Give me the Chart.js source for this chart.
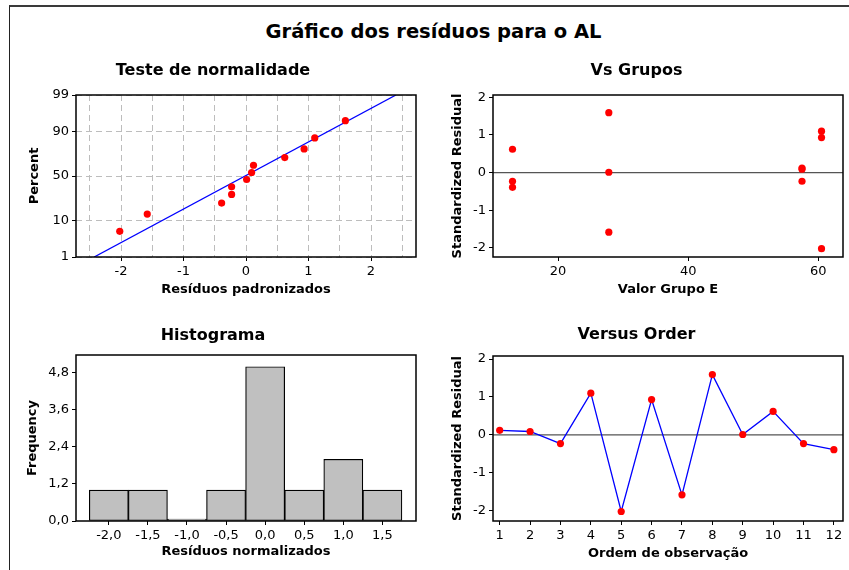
<!DOCTYPE html>
<html>
<head>
<meta charset="utf-8">
<title>Gráfico dos resíduos para o AL</title>
<script src="https://cdn.jsdelivr.net/npm/chart.js@4.4.0/dist/chart.umd.min.js"></script>
<style>
  body { margin: 0; background: #fff; width: 849px; height: 570px; overflow: hidden; position: relative; font-family: "DejaVu Sans", sans-serif; }
  #frame { position: absolute; left: 9px; top: 5px; width: 900px; height: 600px; border-top: 2px solid #3a3a3a; border-left: 1px solid #222; }
  #mainTitle { position: absolute; left: 0; width: 867px; top: 20px; text-align: center; font-weight: bold; font-size: 19.5px; color: #000; }
  canvas { position: absolute; }
</style>
</head>
<body>
<div id="frame"></div>
<div id="mainTitle">Gráfico dos resíduos para o AL</div>
<canvas id="cNormal"></canvas>
<canvas id="cGrupos"></canvas>
<canvas id="cHist"></canvas>
<canvas id="cOrder"></canvas>
<script>
// Resíduos padronizados, na ordem de observação
const obsOrder = [1, 2, 3, 4, 5, 6, 7, 8, 9, 10, 11, 12];
const residuals = [0.12, 0.09, -0.23, 1.10, -2.02, 0.93, -1.58, 1.59, 0.01, 0.62, -0.23, -0.39];
// Valor do grupo E de cada observação
const grupoE = [57.5, 57.5, 57.5, 60.5, 60.5, 60.5, 27.8, 27.8, 27.8, 13, 13, 13];

// Gráfico de probabilidade normal: resíduos ordenados e percentis
const probResiduals = [-2.02, -1.58, -0.39, -0.23, -0.23, 0.01, 0.09, 0.12, 0.62, 0.93, 1.10, 1.59];
const probPercent = [5.6, 13.7, 21.8, 29.8, 37.9, 46.0, 54.0, 62.1, 70.2, 78.2, 86.3, 94.4];
// Reta ajustada (extremos)
const fitX = [-2.43, 2.40];
const fitPercent = [1, 99];

// Histograma
const histBins = [-2.0, -1.5, -1.0, -0.5, 0.0, 0.5, 1.0, 1.5];
const histCounts = [1, 1, 0, 1, 5, 1, 2, 1];

// Marcas dos eixos
const normalXTicks = [-2.5, -2, -1.5, -1, -0.5, 0, 0.5, 1, 1.5, 2, 2.5];
const percentTicks = [1, 10, 50, 90, 99];
const grupoTicks = [20, 40, 60];
const residTicks = [-2, -1, 0, 1, 2];
const freqTicks = [0, 1.2, 2.4, 3.6, 4.8];

const RED = '#ff0000';
const BLUE = '#0000ff';

Chart.defaults.color = '#000';
Chart.defaults.font.family = '"DejaVu Sans", sans-serif';
Chart.defaults.font.size = 13;
Chart.defaults.animation = false;

// inversa da normal padrão (aproximação de Acklam)
function probit(p) {
  const a = [-3.969683028665376e+01, 2.209460984245205e+02, -2.759285104469687e+02, 1.383577518672690e+02, -3.066479806614716e+01, 2.506628277459239e+00];
  const b = [-5.447609879822406e+01, 1.615858368580409e+02, -1.556989798598866e+02, 6.680131188771972e+01, -1.328068155288572e+01];
  const c = [-7.784894002430293e-03, -3.223964580411365e-01, -2.400758310588260e+00, -2.549732539343734e+00, 4.374664141464968e+00, 2.938163982698783e+00];
  const d = [7.784695709041462e-03, 3.224671290700398e-01, 2.445134137142996e+00, 3.754408661907416e+00];
  const pl = 0.02425;
  let q, r;
  if (p < pl) {
    q = Math.sqrt(-2 * Math.log(p));
    return (((((c[0] * q + c[1]) * q + c[2]) * q + c[3]) * q + c[4]) * q + c[5]) / ((((d[0] * q + d[1]) * q + d[2]) * q + d[3]) * q + 1);
  }
  if (p > 1 - pl) {
    q = Math.sqrt(-2 * Math.log(1 - p));
    return -(((((c[0] * q + c[1]) * q + c[2]) * q + c[3]) * q + c[4]) * q + c[5]) / ((((d[0] * q + d[1]) * q + d[2]) * q + d[3]) * q + 1);
  }
  q = p - 0.5;
  r = q * q;
  return (((((a[0] * r + a[1]) * r + a[2]) * r + a[3]) * r + a[4]) * r + a[5]) * q / (((((b[0] * r + b[1]) * r + b[2]) * r + b[3]) * r + b[4]) * r + 1);
}

// escala de probabilidade normal (valores em %)
class ProbabilityScale extends Chart.LinearScale {
  getPixelForValue(value) {
    const z0 = probit(this.min / 100), z1 = probit(this.max / 100);
    return this.getPixelForDecimal((probit(value / 100) - z0) / (z1 - z0));
  }
}
ProbabilityScale.id = 'probability';
ProbabilityScale.defaults = Chart.LinearScale.defaults;
Chart.register(ProbabilityScale);

// moldura da área do gráfico e linha de referência no zero
const plotFrame = {
  id: 'plotFrame',
  beforeDatasetsDraw(chart, args, opts) {
    if (!opts.zeroLine) return;
    const { ctx, chartArea: a } = chart;
    const y = chart.scales.y.getPixelForValue(0);
    ctx.save();
    ctx.strokeStyle = '#555';
    ctx.lineWidth = 1.2;
    ctx.beginPath();
    ctx.moveTo(a.left, y);
    ctx.lineTo(a.right, y);
    ctx.stroke();
    ctx.restore();
  },
  afterDraw(chart) {
    const { ctx, chartArea: a } = chart;
    ctx.save();
    ctx.strokeStyle = '#000';
    ctx.lineWidth = 1.5;
    ctx.strokeRect(a.left, a.top, a.right - a.left, a.bottom - a.top);
    ctx.restore();
  }
};
Chart.register(plotFrame);

const fmtComma = v => v.toFixed(1).replace('.', ',');

function axis(o) {
  return {
    type: o.type || 'linear',
    min: o.min,
    max: o.max,
    offset: false,
    afterBuildTicks: s => { s.ticks = o.ticks.map(v => ({ value: v })); },
    afterFit: s => { if (s.isHorizontal()) s.height = o.size; else s.width = o.size; },
    border: { display: false, dash: o.dash || [] },
    grid: {
      offset: false,
      drawOnChartArea: !!o.gridColor,
      color: o.gridColor || 'rgba(0,0,0,0)',
      tickLength: 4,
      tickColor: o.tickColor || '#000',
      tickWidth: 1
    },
    ticks: { autoSkip: false, maxRotation: 0, padding: 3, callback: o.fmt || (v => v) },
    title: { display: true, text: o.title, font: { size: 13, weight: 'bold' }, padding: o.titlePad }
  };
}

// monta um painel: caixa do canvas, área de plotagem e posições dos textos (coordenadas da página)
function panel(id, box, plot, pos, title, xAxis, yAxis, type, datasets, extra) {
  const canvas = document.getElementById(id);
  canvas.width = box.w;
  canvas.height = box.h;
  canvas.style.left = box.x + 'px';
  canvas.style.top = box.y + 'px';
  canvas.style.width = box.w + 'px';
  canvas.style.height = box.h + 'px';

  const tSize = 16, tLine = tSize * 1.2, aLine = 13 * 1.2;
  const tTop = pos.titleY - box.y - tLine / 2;
  const tBottom = plot.t - box.y - tTop - tLine;

  xAxis.size = box.y + box.h - plot.b;
  xAxis.titlePad = { top: 0, bottom: box.y + box.h - pos.xTitleY - aLine / 2 };
  yAxis.size = plot.l - box.x;
  yAxis.titlePad = { top: pos.yTitleX - box.x - aLine / 2, bottom: 0 };

  new Chart(canvas, {
    type,
    data: { datasets },
    options: {
      responsive: false,
      devicePixelRatio: 1,
      layout: { autoPadding: false, padding: { left: 0, top: 0, bottom: 0, right: box.x + box.w - plot.r } },
      plugins: {
        legend: { display: false },
        tooltip: { enabled: false },
        title: { display: true, text: title, color: '#000', font: { size: tSize, weight: 'bold' }, padding: { top: tTop, bottom: tBottom } },
        plotFrame: extra || {}
      },
      scales: { x: axis(xAxis), y: axis(yAxis) }
    }
  });
}

const dots = { pointRadius: 3.6, pointBackgroundColor: RED, pointBorderColor: RED, pointBorderWidth: 0, showLine: false };

// Teste de normalidade
panel('cNormal',
  { x: 10, y: 50, w: 420, h: 256 },
  { l: 76, t: 95, r: 416, b: 257 },
  { titleY: 71, xTitleY: 290, yTitleX: 35 },
  'Teste de normalidade',
  { min: -2.72, max: 2.72, ticks: normalXTicks, title: 'Resíduos padronizados', gridColor: '#bdbdbd', dash: [6, 4],
    tickColor: c => Number.isInteger(c.tick.value) ? '#000' : 'rgba(0,0,0,0)',
    fmt: v => Number.isInteger(v) ? String(v) : '' },
  { type: 'probability', min: 1, max: 99, ticks: percentTicks, title: 'Percent', gridColor: '#bdbdbd', dash: [6, 4] },
  'scatter',
  [
    Object.assign({ data: probResiduals.map((x, i) => ({ x, y: probPercent[i] })), order: 1 }, dots),
    { data: fitX.map((x, i) => ({ x, y: fitPercent[i] })), showLine: true, borderColor: BLUE, borderWidth: 1.3, pointRadius: 0, order: 2 }
  ]
);

// Vs Grupos
panel('cGrupos',
  { x: 430, y: 50, w: 419, h: 256 },
  { l: 493, t: 95, r: 843, b: 257 },
  { titleY: 71, xTitleY: 290, yTitleX: 458 },
  'Vs Grupos',
  { min: 10, max: 63.8, ticks: grupoTicks, title: 'Valor Grupo E' },
  { min: -2.24, max: 2.06, ticks: residTicks, title: 'Standardized Residual' },
  'scatter',
  [Object.assign({ data: grupoE.map((x, i) => ({ x, y: residuals[i] })) }, dots)],
  { zeroLine: true }
);

// Histograma
panel('cHist',
  { x: 10, y: 312, w: 420, h: 256 },
  { l: 76, t: 355, r: 416, b: 521 },
  { titleY: 336, xTitleY: 552, yTitleX: 33 },
  'Histograma',
  { min: -2.42, max: 1.93, ticks: histBins, title: 'Resíduos normalizados', fmt: fmtComma },
  { min: 0, max: 5.38, ticks: freqTicks, title: 'Frequency', fmt: fmtComma },
  'bar',
  [{
    data: histBins.map((x, i) => ({ x, y: histCounts[i] })),
    backgroundColor: '#c0c0c0', borderColor: '#000', borderWidth: 1.2, borderSkipped: false,
    barPercentage: 1, categoryPercentage: 1, minBarLength: 2
  }]
);

// Versus Order
panel('cOrder',
  { x: 430, y: 312, w: 419, h: 256 },
  { l: 493, t: 356, r: 843, b: 521 },
  { titleY: 335, xTitleY: 554, yTitleX: 458 },
  'Versus Order',
  { min: 0.78, max: 12.3, ticks: obsOrder, title: 'Ordem de observação' },
  { min: -2.27, max: 2.08, ticks: residTicks, title: 'Standardized Residual' },
  'scatter',
  [Object.assign({}, dots, { data: obsOrder.map((x, i) => ({ x, y: residuals[i] })), showLine: true, borderColor: BLUE, borderWidth: 1.3 })],
  { zeroLine: true }
);
</script>
</body>
</html>
